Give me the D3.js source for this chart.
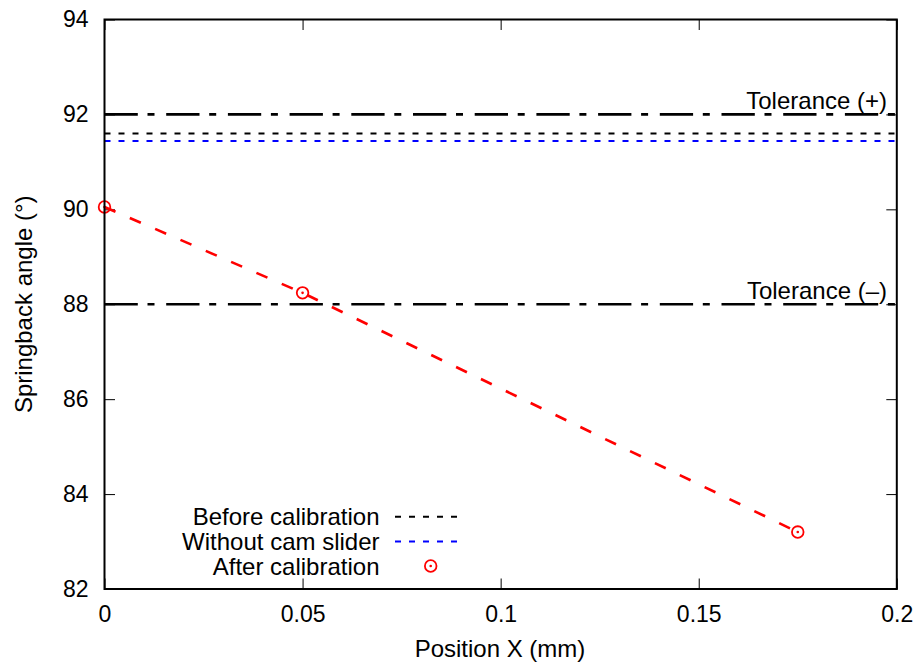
<!DOCTYPE html>
<html>
<head>
<meta charset="utf-8">
<script src="https://cdn.jsdelivr.net/npm/d3@7"></script>
<style>
  body { margin: 0; background: #fff; }
  svg text { font-family: "Liberation Sans", Arial, sans-serif; fill: #000; }
</style>
</head>
<body>
<svg id="chart" width="919" height="665"></svg>
<script>
// data
const xTicks = [0, 0.05, 0.1, 0.15, 0.2];
const yTicks = [82, 84, 86, 88, 90, 92, 94];
const afterX = [0, 0.05, 0.175];
const afterY = [90.05, 88.24, 83.2];
const beforeValue = 91.6;
const noSliderValue = 91.44;
const tolerances = [
  { label: "Tolerance (+)", value: 92 },
  { label: "Tolerance (–)", value: 88 }
];
const legendItems = ["Before calibration", "Without cam slider", "After calibration"];

const svg = d3.select("#chart");
const plotL = 104.5, plotR = 896.8, plotT = 19.5, plotB = 589;
const tickFont = 23;
const labelFont = 24;

const x = d3.scaleLinear().domain([0, 0.2]).range([plotL, plotR]);
const y = d3.scaleLinear().domain([82, 94]).range([plotB, plotT]);

svg.append("rect").attr("width", 919).attr("height", 665).attr("fill", "#fff");

// axes (ticks point inward, mirrored on top/right)
const axisL = svg.append("g")
  .attr("transform", `translate(${plotL},0)`)
  .call(d3.axisLeft(y).tickValues(yTicks).tickFormat(d3.format("d"))
    .tickSizeInner(-10.5).tickSizeOuter(0).tickPadding(16));

const axisB = svg.append("g")
  .attr("transform", `translate(0,${plotB})`)
  .call(d3.axisBottom(x).tickValues(xTicks).tickFormat(d => String(d))
    .tickSizeInner(-10.5).tickSizeOuter(0).tickPadding(16.4));

const axisR = svg.append("g")
  .attr("transform", `translate(${plotR},0)`)
  .call(d3.axisRight(y).tickValues(yTicks).tickFormat("")
    .tickSizeInner(-10.5).tickSizeOuter(0));

const axisT = svg.append("g")
  .attr("transform", `translate(0,${plotT})`)
  .call(d3.axisTop(x).tickValues(xTicks).tickFormat("")
    .tickSizeInner(-10.5).tickSizeOuter(0));

[axisL, axisB, axisR, axisT].forEach(g => {
  g.select(".domain").remove();
  g.selectAll(".tick line").attr("stroke", "#000").attr("stroke-width", 1);
  g.selectAll(".tick text").style("font-size", tickFont + "px")
    .style("font-family", "'Liberation Sans', Arial, sans-serif").attr("fill", "#000");
});

// tolerance lines
tolerances.forEach(t => {
  svg.append("line")
    .attr("x1", x(0)).attr("x2", x(0.2))
    .attr("y1", y(t.value)).attr("y2", y(t.value))
    .attr("stroke", "#000").attr("stroke-width", 2.6)
    .attr("stroke-dasharray", "33.3,9.7,7,11.7");
  svg.append("text")
    .attr("x", 887).attr("y", y(t.value) - 5.5)
    .attr("text-anchor", "end")
    .style("font-size", labelFont + "px")
    .text(t.label);
});

// constant reference lines
svg.append("line")
  .attr("x1", x(0)).attr("x2", x(0.2))
  .attr("y1", y(beforeValue)).attr("y2", y(beforeValue))
  .attr("stroke", "#000").attr("stroke-width", 2)
  .attr("stroke-dasharray", "6,8");

svg.append("line")
  .attr("x1", x(0)).attr("x2", x(0.2))
  .attr("y1", y(noSliderValue)).attr("y2", y(noSliderValue))
  .attr("stroke", "#0000ff").attr("stroke-width", 2)
  .attr("stroke-dasharray", "6,8");

// after calibration
const pts = afterX.map((v, i) => [v, afterY[i]]);
svg.append("path")
  .attr("d", d3.line().x(d => x(d[0])).y(d => y(d[1]))(pts))
  .attr("fill", "none").attr("stroke", "#ff0000").attr("stroke-width", 2.6)
  .attr("stroke-dasharray", "12,15.6");

function marker(g, cx, cy) {
  g.append("circle").attr("cx", cx).attr("cy", cy).attr("r", 5.8)
    .attr("fill", "none").attr("stroke", "#ff0000").attr("stroke-width", 1.8);
  g.append("circle").attr("cx", cx).attr("cy", cy).attr("r", 1.3)
    .attr("fill", "#ff0000");
}
const markers = svg.append("g");
pts.forEach(d => marker(markers, x(d[0]), y(d[1])));

// frame
svg.append("rect")
  .attr("x", plotL).attr("y", plotT)
  .attr("width", plotR - plotL).attr("height", plotB - plotT)
  .attr("fill", "none").attr("stroke", "#000").attr("stroke-width", 2);

// axis titles
svg.append("text")
  .attr("x", 500).attr("y", 657)
  .attr("text-anchor", "middle")
  .style("font-size", labelFont + "px")
  .text("Position X (mm)");

svg.append("text")
  .attr("transform", `translate(31.5,${(plotT + plotB) / 2}) rotate(-90)`)
  .attr("text-anchor", "middle")
  .style("font-size", labelFont + "px")
  .text("Springback angle (°)");

// legend
const legendY = [516.8, 541.5, 566];
const legend = svg.append("g");
legendItems.forEach((name, i) => {
  legend.append("text")
    .attr("x", 379.5).attr("y", legendY[i] + 8.5)
    .attr("text-anchor", "end")
    .style("font-size", labelFont + "px")
    .text(name);
});
legend.append("line")
  .attr("x1", 395).attr("x2", 458).attr("y1", legendY[0]).attr("y2", legendY[0])
  .attr("stroke", "#000").attr("stroke-width", 2).attr("stroke-dasharray", "6,8");
legend.append("line")
  .attr("x1", 395).attr("x2", 458).attr("y1", legendY[1]).attr("y2", legendY[1])
  .attr("stroke", "#0000ff").attr("stroke-width", 2).attr("stroke-dasharray", "6,8");
marker(legend, 430.7, legendY[2]);
</script>
</body>
</html>
